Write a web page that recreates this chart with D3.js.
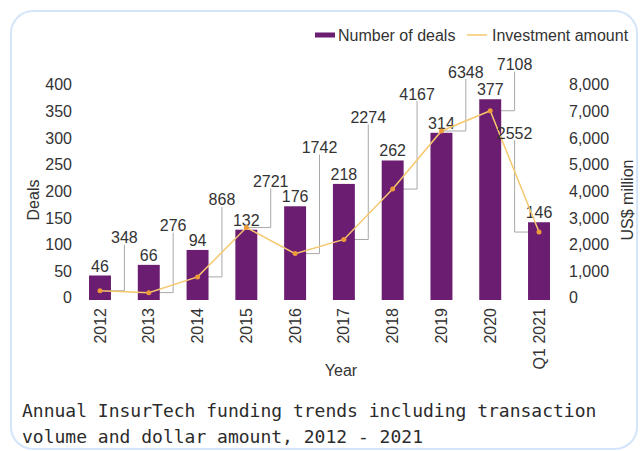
<!DOCTYPE html>
<html lang="en">
<head>
    <meta charset="UTF-8">
    <title>Annual InsurTech funding trends</title>
    <script src="https://d3js.org/d3.v7.min.js"></script>
    <style>
        body {
            margin: 0;
            background: #fff;
        }
        svg text {
            font-family: "Liberation Sans", Arial, sans-serif;
            fill: #333;
        }
        .caption {
            font-family: "DejaVu Sans Mono", monospace;
            font-size: 18px;
            fill: #2b2b2b;
        }
    </style>
</head>
<body>
<svg id="chart" width="640" height="451"></svg>
<script>
    // Data
    const years = ["2012", "2013", "2014", "2015", "2016", "2017", "2018", "2019", "2020", "Q1 2021"];
    const deals = [46, 66, 94, 132, 176, 218, 262, 314, 377, 146];
    const investment = [348, 276, 868, 2721, 1742, 2274, 4167, 6348, 7108, 2552];
    const dealTicks = [0, 50, 100, 150, 200, 250, 300, 350, 400];
    const amountTicks = [0, 1000, 2000, 3000, 4000, 5000, 6000, 7000, 8000];

    // how far each investment callout label sits above its point (px)
    const calloutLift = [53, 67, 77, 46, 106, 122, 95, 59, 46, 99];

    const barColor = "#6b1d72";
    const lineColor = "#f6c86e";
    const dotColor = "#ee9b3b";

    const svg = d3.select("#chart");

    // card frame
    svg.append("rect")
        .attr("x", 11).attr("y", 11)
        .attr("width", 626).attr("height", 438)
        .attr("rx", 22)
        .attr("fill", "#fff")
        .attr("stroke", "#d3e5fb")
        .attr("stroke-width", 2);

    const x = d3.scaleBand()
        .domain(years)
        .range([75.6, 563.4])
        .paddingInner(0.55)
        .paddingOuter(0.275);

    const yDeals = d3.scaleLinear().domain([0, 400]).range([300, 87]);
    const yAmt = d3.scaleLinear().domain([0, 8000]).range([300, 87]);

    const cx = d => x(d) + x.bandwidth() / 2;

    // Left axis
    const gl = svg.append("g")
        .attr("transform", "translate(76,0)")
        .call(d3.axisLeft(yDeals).tickValues(dealTicks).tickSize(0).tickPadding(4));
    gl.select(".domain").remove();
    gl.selectAll("text").attr("font-size", 16).attr("dy", "0.18em");

    // Right axis
    const gr = svg.append("g")
        .attr("transform", "translate(565,0)")
        .call(d3.axisRight(yAmt).tickValues(amountTicks).tickFormat(d3.format(",")).tickSize(0).tickPadding(4));
    gr.select(".domain").remove();
    gr.selectAll("text").attr("font-size", 16).attr("dy", "0.18em");

    // Bottom axis
    const gb = svg.append("g")
        .attr("transform", "translate(0,300)")
        .call(d3.axisBottom(x).tickSize(0));
    gb.select(".domain").remove();
    gb.selectAll("text")
        .attr("font-size", 16)
        .attr("transform", "rotate(-90)")
        .attr("x", -8)
        .attr("y", 0)
        .attr("dy", "0.35em")
        .style("text-anchor", "end");
    svg.selectAll(".tick text").attr("fill", "#333");
    svg.selectAll("g").attr("font-family", null);

    // Axis titles
    svg.append("text")
        .attr("x", 341).attr("y", 370)
        .attr("dy", "0.35em")
        .attr("text-anchor", "middle")
        .attr("font-size", 16)
        .text("Year");

    svg.append("text")
        .attr("transform", "translate(33,200) rotate(-90)")
        .attr("dy", "0.35em")
        .attr("text-anchor", "middle")
        .attr("font-size", 16)
        .text("Deals");

    svg.append("text")
        .attr("transform", "translate(627,200) rotate(-90)")
        .attr("dy", "0.35em")
        .attr("text-anchor", "middle")
        .attr("font-size", 16)
        .text("US$ million");

    // Callout leaders for investment labels
    const half = x.step() / 2;
    const callouts = years.map((yr, i) => {
        const px = cx(yr);
        const py = yAmt(investment[i]);
        const last = i === years.length - 1;
        const vx = last ? px - half : px + half;
        const ly = py - calloutLift[i];
        return { px, py, vx, ly, v: investment[i] };
    });

    svg.append("g").selectAll("path")
        .data(callouts)
        .enter().append("path")
        .attr("d", d => `M${d.px},${d.py}H${d.vx}V${d.ly + 7}`)
        .attr("fill", "none")
        .attr("stroke", "#a8a8a8")
        .attr("stroke-width", 1);

    // Bars
    svg.append("g").selectAll("rect")
        .data(years)
        .enter().append("rect")
        .attr("x", d => x(d))
        .attr("y", (d, i) => yDeals(deals[i]))
        .attr("width", x.bandwidth())
        .attr("height", (d, i) => yDeals(0) - yDeals(deals[i]))
        .attr("fill", barColor);

    // Bar labels
    svg.append("g").selectAll("text")
        .data(years)
        .enter().append("text")
        .attr("x", d => cx(d))
        .attr("y", (d, i) => yDeals(deals[i]) - 4)
        .attr("text-anchor", "middle")
        .attr("font-size", 16)
        .text((d, i) => deals[i]);

    // Investment line
    const line = d3.line()
        .x((d, i) => cx(years[i]))
        .y(d => yAmt(d));

    svg.append("path")
        .datum(investment)
        .attr("d", line)
        .attr("fill", "none")
        .attr("stroke", lineColor)
        .attr("stroke-width", 1.5);

    svg.append("g").selectAll("circle")
        .data(investment)
        .enter().append("circle")
        .attr("cx", (d, i) => cx(years[i]))
        .attr("cy", d => yAmt(d))
        .attr("r", 2.5)
        .attr("fill", dotColor);

    // Investment labels
    svg.append("g").selectAll("text")
        .data(callouts)
        .enter().append("text")
        .attr("x", d => d.vx)
        .attr("y", d => d.ly)
        .attr("dy", "0.35em")
        .attr("text-anchor", "middle")
        .attr("font-size", 16)
        .text(d => d.v);

    // Legend
    const legend = svg.append("g").attr("transform", "translate(315,35)");
    legend.append("rect")
        .attr("x", 0).attr("y", -2.5)
        .attr("width", 20).attr("height", 5)
        .attr("fill", barColor);
    legend.append("text")
        .attr("x", 23).attr("y", 0)
        .attr("dy", "0.35em")
        .attr("font-size", 16)
        .text("Number of deals");
    legend.append("line")
        .attr("x1", 152).attr("x2", 172)
        .attr("y1", 0).attr("y2", 0)
        .attr("stroke", lineColor)
        .attr("stroke-width", 1.5);
    legend.append("text")
        .attr("x", 177).attr("y", 0)
        .attr("dy", "0.35em")
        .attr("font-size", 16)
        .text("Investment amount");

    // Caption
    svg.append("text")
        .attr("class", "caption")
        .attr("x", 22).attr("y", 411)
        .attr("dy", "0.35em")
        .text("Annual InsurTech funding trends including transaction");
    svg.append("text")
        .attr("class", "caption")
        .attr("x", 22).attr("y", 437)
        .attr("dy", "0.35em")
        .text("volume and dollar amount, 2012 - 2021");
</script>
</body>
</html>
